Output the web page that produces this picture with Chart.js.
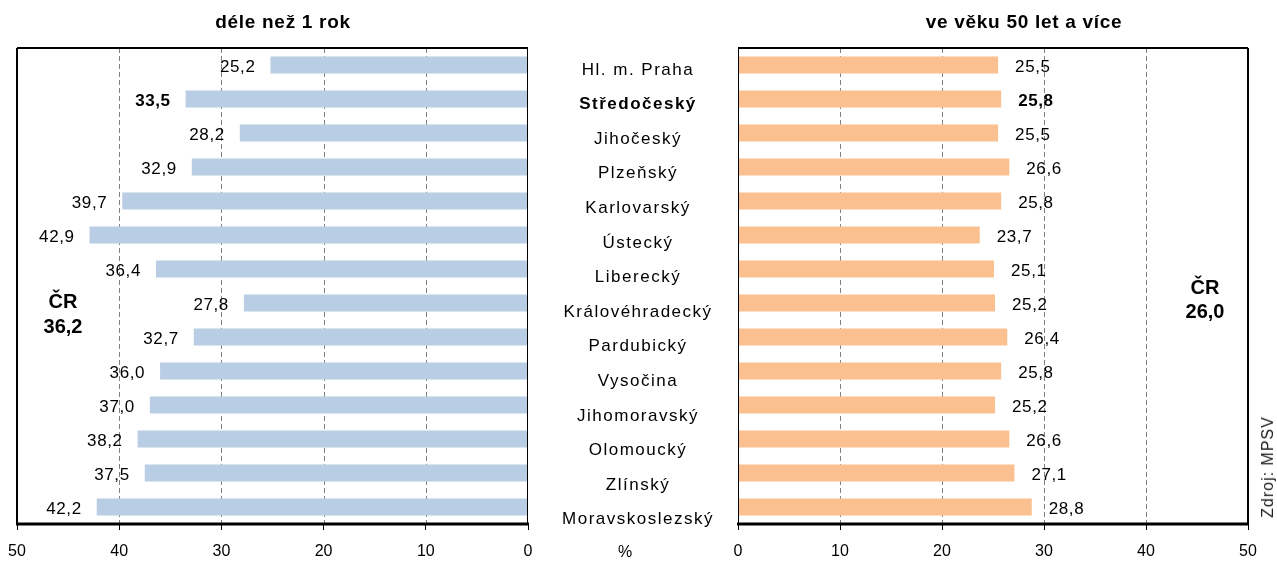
<!DOCTYPE html>
<html><head><meta charset="utf-8">
<script src="https://cdn.jsdelivr.net/npm/chart.js@4.4.1/dist/chart.umd.min.js"></script>
<style>
html,body{margin:0;padding:0;background:#fff;}
body{width:1277px;height:572px;overflow:hidden;position:relative;font-family:"Liberation Sans",Arial,sans-serif;color:#000;}
canvas{position:absolute;top:0;}
#cL{left:0;}
#cR{left:540px;}
.t{position:absolute;white-space:nowrap;transform:translate(-50%,-50%);}
.title{font-weight:bold;font-size:19px;letter-spacing:0.7px;}
.cr{font-weight:bold;font-size:20px;text-align:center;transform:translateX(-50%);}
</style></head>
<body>
<canvas id="cL" width="540" height="572"></canvas>
<canvas id="cR" width="737" height="572"></canvas>
<div class="t title" style="left:283px;top:22px;">déle než 1 rok</div>
<div class="t title" style="left:1024px;top:22px;">ve věku 50 let a více</div>
<div class="t cr" style="left:63px;top:289px;line-height:25px;">ČR<br>36,2</div>
<div class="t cr" style="left:1205px;top:275px;line-height:24px;">ČR<br>26,0</div>
<div class="t" style="left:625px;top:552px;font-size:16px;">%</div>
<div class="t" style="left:1268px;top:467px;font-size:16px;letter-spacing:1px;color:#222;transform:translate(-50%,-50%) rotate(-90deg);">Zdroj: MPSV</div>
<script>
const regions = ["Hl. m. Praha","Středočeský","Jihočeský","Plzeňský","Karlovarský","Ústecký","Liberecký","Královéhradecký","Pardubický","Vysočina","Jihomoravský","Olomoucký","Zlínský","Moravskoslezský"];
const longTerm = [25.2,33.5,28.2,32.9,39.7,42.9,36.4,27.8,32.7,36.0,37.0,38.2,37.5,42.2];
const age50plus = [25.5,25.8,25.5,26.6,25.8,23.7,25.1,25.2,26.4,25.8,25.2,26.6,27.1,28.8];
const xTicks = [0,10,20,30,40,50];
const boldIndex = 1;

const FONT = '"Liberation Sans", Arial, sans-serif';

const dashedGrid = {
  id: 'dashedGrid',
  beforeDatasetsDraw(chart) {
    const xs = chart.scales.x;
    const {top, bottom} = chart.chartArea;
    const ctx = chart.ctx;
    ctx.save();
    ctx.strokeStyle = '#808080';
    ctx.lineWidth = 1;
    ctx.setLineDash([5, 3]);
    xs.ticks.forEach(t => {
      if (t.value === xs.min || t.value === xs.max) return;
      const x = Math.round(xs.getPixelForValue(t.value)) + 0.5;
      ctx.beginPath(); ctx.moveTo(x, top); ctx.lineTo(x, bottom); ctx.stroke();
    });
    ctx.restore();
  }
};

const framePlugin = {
  id: 'frame',
  afterDraw(chart, args, o) {
    const {left, right, top, bottom} = chart.chartArea;
    const ctx = chart.ctx;
    ctx.save();
    ctx.strokeStyle = '#000';
    const line = (x1, y1, x2, y2, w) => { ctx.lineWidth = w; ctx.beginPath(); ctx.moveTo(x1, y1); ctx.lineTo(x2, y2); ctx.stroke(); };
    line(left, top, right, top, o.top);
    line(left + (o.left > 1 ? 0 : 0.5), top, left + (o.left > 1 ? 0 : 0.5), bottom, o.left);
    line(right - (o.right > 1 ? 0 : 0.5), top, right - (o.right > 1 ? 0 : 0.5), bottom, o.right);
    line(left - 1, bottom, right + 1, bottom, o.bottom);
    ctx.restore();
  }
};

const valueLabels = {
  id: 'valueLabels',
  afterDatasetsDraw(chart, args, o) {
    const ctx = chart.ctx;
    const meta = chart.getDatasetMeta(0);
    const data = chart.data.datasets[0].data;
    ctx.save();
    ctx.fillStyle = '#000';
    ctx.textBaseline = 'middle';
    try { ctx.letterSpacing = '0.6px'; } catch (e) {}
    meta.data.forEach((bar, i) => {
      ctx.font = (i === boldIndex ? 'bold ' : '') + '17px ' + FONT;
      const txt = data[i].toFixed(1).replace('.', ',');
      if (o.side === 'left') { ctx.textAlign = 'right'; ctx.fillText(txt, bar.x - o.gap, bar.y + 2); }
      else { ctx.textAlign = 'left'; ctx.fillText(txt, bar.x + o.gap, bar.y + 2); }
    });
    ctx.restore();
  }
};

const catLabels = {
  id: 'catLabels',
  afterDraw(chart, args, o) {
    const ys = chart.scales.y;
    const ctx = chart.ctx;
    ctx.save();
    ctx.fillStyle = '#000';
    ctx.textAlign = 'center';
    ctx.textBaseline = 'middle';
    try { ctx.letterSpacing = '1.5px'; } catch (e) {}
    chart.data.labels.forEach((lab, i) => {
      ctx.font = (i === boldIndex ? 'bold ' : '') + '17px ' + FONT;
      ctx.fillText(lab, o.x, ys.getPixelForValue(i) + 5 + i * 0.6);
    });
    ctx.restore();
  }
};

function xScale(reverse) {
  return {
    type: 'linear', min: 0, max: 50, reverse: reverse,
    afterBuildTicks: (s) => { s.ticks = xTicks.map(v => ({value: v})); },
    afterFit: (s) => { s.height = 48; },
    ticks: { color: '#000', font: {size: 16, family: FONT}, padding: 12, maxRotation: 0, autoSkip: false },
    grid: { drawOnChartArea: false, drawTicks: true, color: '#000', tickColor: '#000', tickLength: 6, tickWidth: 1, lineWidth: 1 },
    border: { display: false }
  };
}

function makeChart(id, data, color, reverse, padding, frame, side, gap, extraPlugins, extraOpts) {
  return new Chart(document.getElementById(id), {
    type: 'bar',
    data: { labels: regions, datasets: [{ data: data, backgroundColor: color, borderWidth: 0, categoryPercentage: 1, barPercentage: 0.5 }] },
    options: {
      indexAxis: 'y', responsive: false, animation: false,
      layout: { padding: padding },
      scales: { x: xScale(reverse), y: { display: false, grid: {display: false} } },
      plugins: Object.assign({ legend: {display: false}, tooltip: {enabled: false}, frame: frame, valueLabels: {side: side, gap: gap} }, extraOpts || {})
    },
    plugins: [dashedGrid, framePlugin, valueLabels].concat(extraPlugins || [])
  });
}

makeChart('cL', longTerm, '#B9CDE5', true, {left: 17, right: 12, top: 48, bottom: 0},
  {top: 2, left: 2, right: 1, bottom: 3}, 'left', 15);
makeChart('cR', age50plus, '#FAC090', false, {left: 198, right: 29, top: 48, bottom: 0},
  {top: 2, left: 1, right: 2, bottom: 3}, 'right', 17, [catLabels], {catLabels: {x: 98}});
</script>
</body></html>
